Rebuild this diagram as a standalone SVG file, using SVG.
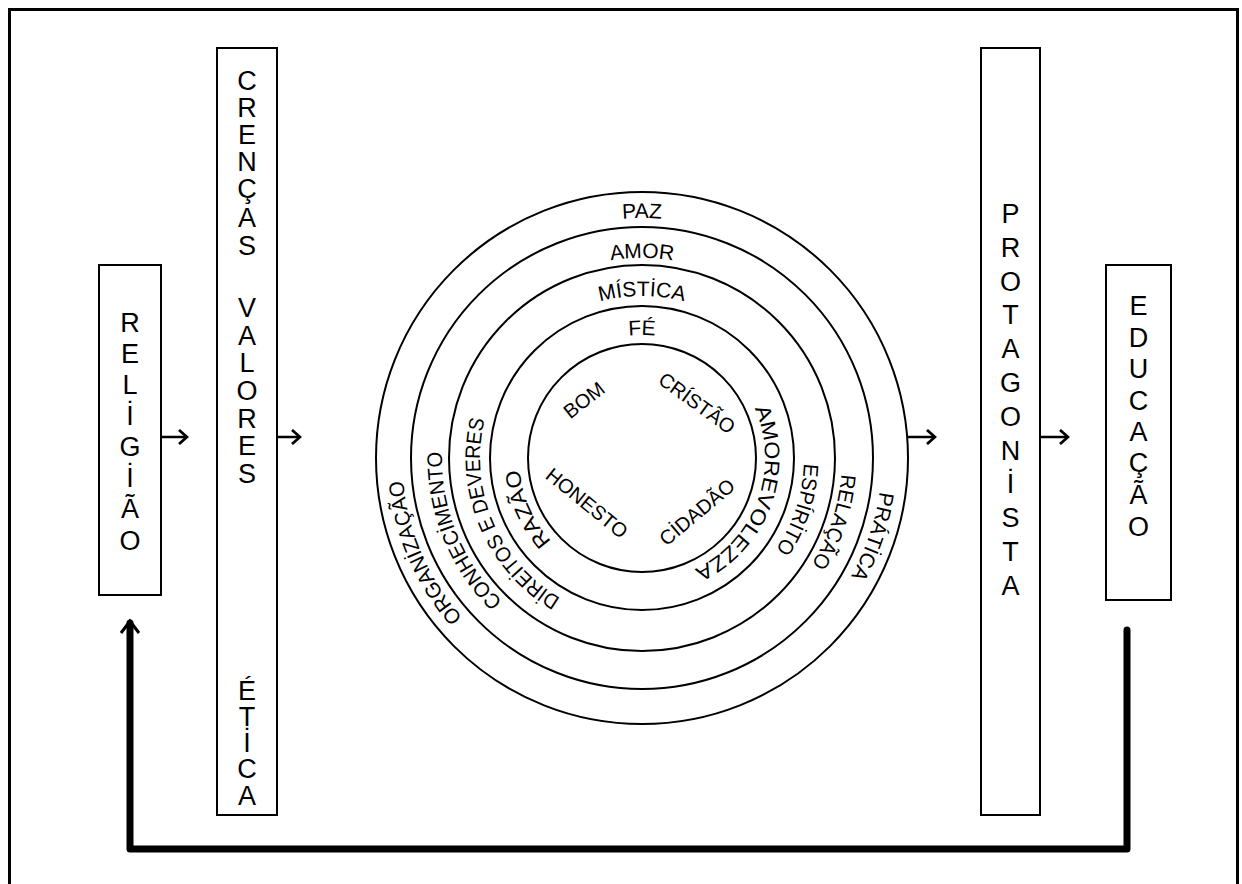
<svg xmlns="http://www.w3.org/2000/svg" width="1242" height="884" viewBox="0 0 1242 884">
<style>
.box{fill:#fff;stroke:#000;stroke-width:2}
.bl{font-family:"Liberation Sans",Arial,sans-serif;font-size:27px;fill:#000;text-anchor:middle}
.ring{fill:none;stroke:#000;stroke-width:2}
.rt{font-family:"Liberation Sans",Arial,sans-serif;font-size:21px;fill:#000;text-anchor:middle}
.it{font-family:"Liberation Sans",Arial,sans-serif;font-size:20px;fill:#000;text-anchor:middle}
.arr{fill:none;stroke:#000;stroke-width:2.5}
.fb{fill:none;stroke:#000;stroke-width:7;stroke-linejoin:round;stroke-linecap:round}
</style>
<defs>
<marker id="ah" markerUnits="userSpaceOnUse" markerWidth="12" markerHeight="16" refX="10" refY="8" orient="auto">
<path d="M2,1 L10,8 L2,15" fill="none" stroke="#000" stroke-width="2.8"/>
</marker>
<path id="pD" d="M642,698 A240,240 0 1 1 642,218 A240,240 0 1 1 642,698"/>
<path id="pC" d="M642,658 A200,200 0 1 1 642,258 A200,200 0 1 1 642,658"/>
<path id="pB" d="M642,620 A162,162 0 1 1 642,296 A162,162 0 1 1 642,620"/>
<path id="pA" d="M642,581 A123,123 0 1 1 642,335 A123,123 0 1 1 642,581"/>
</defs>
<rect x="0" y="0" width="1242" height="884" fill="#fff"/>
<rect x="9.5" y="9.5" width="1228" height="890" fill="none" stroke="#000" stroke-width="3"/>

<g id="religiao">
<rect class="box" x="99" y="265" width="62" height="330"/>
<text class="bl" x="130" y="332">R</text>
<text class="bl" x="130" y="363">E</text>
<text class="bl" x="130" y="394">L</text>
<text class="bl" x="130" y="425">İ</text>
<text class="bl" x="130" y="456">G</text>
<text class="bl" x="130" y="487">İ</text>
<text class="bl" x="130" y="518">Ã</text>
<text class="bl" x="130" y="550">O</text>
</g>

<g id="crencas">
<rect class="box" x="217" y="48" width="60" height="767"/>
<text class="bl" x="247" y="90">C</text>
<text class="bl" x="247" y="117">R</text>
<text class="bl" x="247" y="144">E</text>
<text class="bl" x="247" y="171">N</text>
<text class="bl" x="247" y="198">Ç</text>
<text class="bl" x="247" y="227">A</text>
<text class="bl" x="247" y="255">S</text>
<text class="bl" x="247" y="317">V</text>
<text class="bl" x="247" y="345">A</text>
<text class="bl" x="247" y="372">L</text>
<text class="bl" x="247" y="400">O</text>
<text class="bl" x="247" y="428">R</text>
<text class="bl" x="247" y="455">E</text>
<text class="bl" x="247" y="483">S</text>
<text class="bl" x="247" y="700">É</text>
<text class="bl" x="247" y="726">T</text>
<text class="bl" x="247" y="752">İ</text>
<text class="bl" x="247" y="778">C</text>
<text class="bl" x="247" y="805">A</text>
</g>

<g id="circulo">
<circle class="ring" cx="642" cy="458" r="266" stroke-width="2.4"/>
<circle class="ring" cx="642" cy="458" r="231" stroke-width="2.2"/>
<circle class="ring" cx="642" cy="458" r="193" stroke-width="2"/>
<circle class="ring" cx="642" cy="458" r="152" stroke-width="1.8"/>
<circle class="ring" cx="642" cy="458" r="114" stroke-width="1.6"/>
<text class="rt" font-size="20"><textPath href="#pD" startOffset="50%">PAZ</textPath></text>
<text class="rt" font-size="22"><textPath href="#pC" startOffset="50%">AMOR</textPath></text>
<text class="rt"><textPath href="#pB" startOffset="50%">MÍSTİCA</textPath></text>
<text class="rt"><textPath href="#pA" startOffset="50%">FÉ</textPath></text>
<text class="rt"><textPath href="#pD" startOffset="18.47%" textLength="152" lengthAdjust="spacingAndGlyphs">ORGANİZAÇÃO</textPath></text>
<text class="rt"><textPath href="#pC" startOffset="18.89%" textLength="166" lengthAdjust="spacingAndGlyphs">CONHECİMENTO</textPath></text>
<text class="rt"><textPath href="#pB" startOffset="18.61%" textLength="208" lengthAdjust="spacingAndGlyphs">DİREİTOS E DEVERES</textPath></text>
<text class="rt"><textPath href="#pA" startOffset="18.33%" textLength="80" lengthAdjust="spacingAndGlyphs">RAZÃO</textPath></text>
<text class="rt"><textPath href="#pA" startOffset="80.69%" textLength="190" lengthAdjust="spacingAndGlyphs">AMOREVOLEZZA</textPath></text>
<text class="rt"><textPath href="#pB" startOffset="80.06%" textLength="92" lengthAdjust="spacingAndGlyphs">ESPÍRİTO</textPath></text>
<text class="rt"><textPath href="#pC" startOffset="80.11%" textLength="96" lengthAdjust="spacingAndGlyphs">RELAÇÃO</textPath></text>
<text class="rt"><textPath href="#pD" startOffset="80.22%" textLength="90" lengthAdjust="spacingAndGlyphs">PRÁTİCA</textPath></text>
<text class="it" transform="translate(584,400) rotate(-38)" x="0" y="7">BOM</text>
<text class="it" transform="translate(697,403) rotate(36)" x="0" y="7">CRÍSTÃO</text>
<text class="it" transform="translate(587,503) rotate(39)" x="0" y="7">HONESTO</text>
<text class="it" transform="translate(697,512) rotate(-40)" x="0" y="7">CİDADÃO</text>
</g>

<g id="protagonista">
<rect class="box" x="981" y="48" width="59" height="767"/>
<text class="bl" x="1010.5" y="223">P</text>
<text class="bl" x="1010.5" y="257">R</text>
<text class="bl" x="1010.5" y="291">O</text>
<text class="bl" x="1010.5" y="324">T</text>
<text class="bl" x="1010.5" y="358">A</text>
<text class="bl" x="1010.5" y="392">G</text>
<text class="bl" x="1010.5" y="426">O</text>
<text class="bl" x="1010.5" y="460">N</text>
<text class="bl" x="1010.5" y="493">İ</text>
<text class="bl" x="1010.5" y="527">S</text>
<text class="bl" x="1010.5" y="561">T</text>
<text class="bl" x="1010.5" y="595">A</text>
</g>

<g id="educacao">
<rect class="box" x="1106" y="265" width="65" height="335"/>
<text class="bl" x="1138.5" y="315">E</text>
<text class="bl" x="1138.5" y="347">D</text>
<text class="bl" x="1138.5" y="378">U</text>
<text class="bl" x="1138.5" y="410">C</text>
<text class="bl" x="1138.5" y="441">A</text>
<text class="bl" x="1138.5" y="472">Ç</text>
<text class="bl" x="1138.5" y="504">Ã</text>
<text class="bl" x="1138.5" y="536">O</text>
</g>

<g id="connectors">
<line class="arr" x1="162" y1="437" x2="187" y2="437" marker-end="url(#ah)"/>
<line class="arr" x1="277" y1="437" x2="300" y2="437" marker-end="url(#ah)"/>
<line class="arr" x1="908" y1="437" x2="935" y2="437" marker-end="url(#ah)"/>
<line class="arr" x1="1040" y1="437" x2="1068" y2="437" marker-end="url(#ah)"/>
<path class="fb" d="M1127,630 L1127,849 L130,849 L130,623"/>
<path d="M121,633 L130,621 L139,633" fill="none" stroke="#000" stroke-width="3" stroke-linejoin="miter"/>
</g>
</svg>
